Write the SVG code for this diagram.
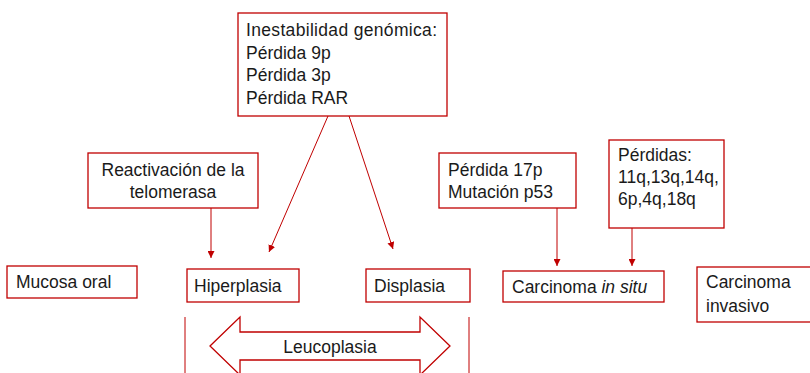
<svg xmlns="http://www.w3.org/2000/svg" width="810" height="373" viewBox="0 0 810 373">
<style>
.box{fill:#fff;stroke:#C00000;stroke-width:1.3}
.t{font-family:"Liberation Sans",Arial,sans-serif;font-size:17.5px;fill:#1a1a1a}
.c{stroke:#C00000;stroke-width:1;fill:none}
</style>
<defs>
<marker id="ah" viewBox="0 0 10 10" refX="10" refY="5" markerWidth="7" markerHeight="7" markerUnits="userSpaceOnUse" orient="auto">
<path d="M0,0 L10,5 L0,10 Z" fill="#C00000"/>
</marker>
</defs>
<rect width="810" height="373" fill="#fff"/>
<g id="connectors">
<line class="c" x1="211" y1="208" x2="211" y2="258" marker-end="url(#ah)"/>
<line class="c" x1="328" y1="116" x2="269" y2="252" marker-end="url(#ah)"/>
<line class="c" x1="349" y1="116" x2="393" y2="249" marker-end="url(#ah)"/>
<line class="c" x1="557" y1="208" x2="557" y2="266" marker-end="url(#ah)"/>
<line class="c" x1="632" y1="228" x2="632" y2="266" marker-end="url(#ah)"/>
<line class="c" x1="185" y1="317" x2="185" y2="373"/>
<line class="c" x1="469" y1="317" x2="469" y2="373"/>
</g>
<g id="inestabilidad">
<rect class="box" x="238" y="13" width="209" height="103"/>
<text class="t" x="246" y="36" textLength="191">Inestabilidad genómica:</text>
<text class="t" x="246" y="58.5">Pérdida 9p</text>
<text class="t" x="246" y="81">Pérdida 3p</text>
<text class="t" x="246" y="104">Pérdida RAR</text>
</g>
<g id="reactivacion">
<rect class="box" x="88" y="153" width="170" height="55"/>
<text class="t" x="173" y="176" text-anchor="middle">Reactivación de la</text>
<text class="t" x="173" y="198" text-anchor="middle">telomerasa</text>
</g>
<g id="p17">
<rect class="box" x="439" y="153" width="137" height="55"/>
<text class="t" x="448" y="176">Pérdida 17p</text>
<text class="t" x="448" y="198">Mutación p53</text>
</g>
<g id="perdidas">
<rect class="box" x="609" y="140" width="115" height="88"/>
<text class="t" x="618" y="161">Pérdidas:</text>
<text class="t" x="618" y="183">11q,13q,14q,</text>
<text class="t" x="618" y="205">6p,4q,18q</text>
</g>
<g id="mucosa">
<rect class="box" x="7" y="266" width="130" height="32"/>
<text class="t" x="16" y="288">Mucosa oral</text>
</g>
<g id="hiperplasia">
<rect class="box" x="187" y="269" width="112" height="33"/>
<text class="t" x="194" y="292">Hiperplasia</text>
</g>
<g id="displasia">
<rect class="box" x="366" y="269" width="104" height="33"/>
<text class="t" x="374" y="292">Displasia</text>
</g>
<g id="cis">
<rect class="box" x="503" y="271" width="161" height="31"/>
<text class="t" x="512" y="293">Carcinoma <tspan font-style="italic">in situ</tspan></text>
</g>
<g id="invasivo">
<rect class="box" x="697" y="267" width="120" height="55"/>
<text class="t" x="706" y="288">Carcinoma</text>
<text class="t" x="706" y="312">invasivo</text>
</g>
<g id="leucoplasia">
<path class="box" d="M210,346 L240,317 L240,332 L420,332 L420,317 L450,346 L420,375 L420,360 L240,360 L240,375 Z"/>
<text class="t" x="330" y="353" text-anchor="middle">Leucoplasia</text>
</g>
</svg>
